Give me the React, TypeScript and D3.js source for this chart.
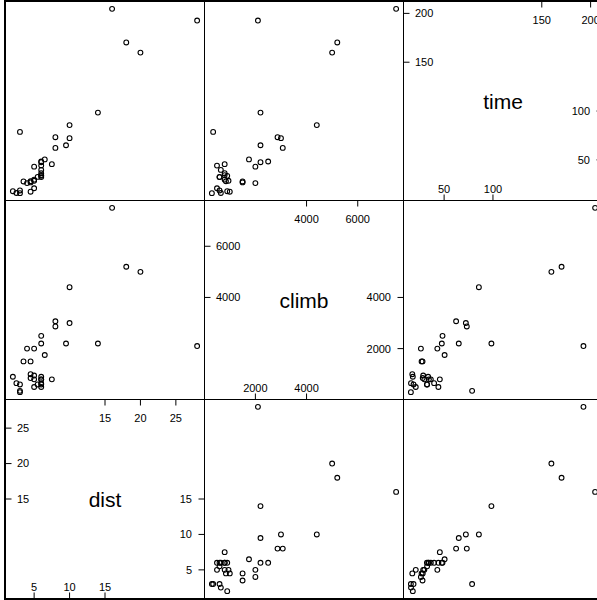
import React from 'react';
import * as d3 from 'd3';

// MASS::hills — 35 Scottish hill races
const dist = [2.5, 6, 6, 7.5, 8, 8, 16, 6, 5, 6, 28, 5, 9.5, 6, 4.5, 10, 14, 3, 4.5, 5.5, 3, 3.5, 6, 2, 3, 4, 6, 5, 6.5, 5, 10, 6, 18, 4.5, 20];
const climb = [650, 2500, 900, 800, 3070, 2866, 7500, 800, 800, 650, 2100, 2000, 2200, 500, 1500, 3000, 2200, 350, 1000, 600, 300, 1500, 2200, 900, 600, 2000, 800, 950, 1750, 500, 4400, 600, 5200, 850, 5000];
const time = [16.083, 48.35, 33.65, 45.6, 62.267, 73.217, 204.617, 36.367, 29.75, 39.75, 192.667, 43.05, 65, 44.133, 26.933, 72.25, 98.417, 78.65, 17.417, 32.567, 15.95, 27.9, 47.633, 17.933, 18.683, 26.217, 34.433, 28.567, 50.5, 20.95, 85.583, 32.383, 170.25, 28.1, 159.833];

const varNames = ['dist', 'climb', 'time'];
const distTicks = [5, 10, 15, 20, 25];
const climbTicks = [2000, 4000, 6000];
const timeTicks = [50, 100, 150, 200];

const allVars = [dist, climb, time];
const allTicks = [distTicks, climbTicks, timeTicks];

const X0 = 5.5;
const Y0 = 1.5;
const P = 199;
const PAD = 0.04;
const FONT = "'Liberation Sans', Arial, Helvetica, sans-serif";

function ext(v: number[]): [number, number] {
  const [lo, hi] = d3.extent(v) as [number, number];
  const s = hi - lo;
  return [lo - PAD * s, hi + PAD * s];
}

export default function App() {
  const n = dist.length;
  const xScales = allVars.map((v, i) =>
    d3.scaleLinear().domain(ext(v)).range([X0 + i * P, X0 + (i + 1) * P])
  );
  const yScales = allVars.map((v, i) => {
    const r = 2 - i;
    return d3.scaleLinear().domain(ext(v)).range([Y0 + (r + 1) * P, Y0 + r * P]);
  });

  const panels: React.ReactNode[] = [];
  for (let r = 0; r < 3; r++) {
    for (let c = 0; c < 3; c++) {
      const yi = 2 - r;
      const xi = c;
      const px = X0 + c * P;
      const py = Y0 + r * P;
      const id = `clip-${r}-${c}`;
      if (xi === yi) {
        const ticks = allTicks[xi];
        const k = Math.ceil(ticks.length / 2);
        const lower = ticks.slice(0, k);
        const upper = ticks.slice(ticks.length - k);
        const xs = xScales[xi];
        const ys = yScales[yi];
        panels.push(
          <g key={id}>
            <text x={px + P / 2} y={py + P / 2 + 7.5} textAnchor="middle" fontSize={21} fontFamily={FONT} fill="#000">
              {varNames[xi]}
            </text>
            {lower.map((t) => (
              <g key={'b' + t}>
                <line x1={xs(t)} x2={xs(t)} y1={py + P} y2={py + P - 6} stroke="#000" />
                <text x={xs(t)} y={py + P - 7.5} textAnchor="middle" fontSize={11} fontFamily={FONT} fill="#000">{t}</text>
              </g>
            ))}
            {upper.map((t) => (
              <g key={'t' + t}>
                <line x1={xs(t)} x2={xs(t)} y1={py} y2={py + 6} stroke="#000" />
                <text x={xs(t)} y={py + 22.5} textAnchor="middle" fontSize={11} fontFamily={FONT} fill="#000">{t}</text>
              </g>
            ))}
            {upper.map((t) => (
              <g key={'l' + t}>
                <line x1={px} x2={px + 6} y1={ys(t)} y2={ys(t)} stroke="#000" />
                <text x={px + 11.5} y={ys(t) + 3.9} textAnchor="start" fontSize={11} fontFamily={FONT} fill="#000">{t}</text>
              </g>
            ))}
            {lower.map((t) => (
              <g key={'r' + t}>
                <line x1={px + P} x2={px + P - 6} y1={ys(t)} y2={ys(t)} stroke="#000" />
                <text x={px + P - 12.5} y={ys(t) + 3.9} textAnchor="end" fontSize={11} fontFamily={FONT} fill="#000">{t}</text>
              </g>
            ))}
          </g>
        );
      } else {
        const xv = allVars[xi];
        const yv = allVars[yi];
        panels.push(
          <g key={id} clipPath={`url(#${id})`}>
            {d3.range(n).map((j) => (
              <circle
                key={j}
                cx={xScales[xi](xv[j])}
                cy={yScales[yi](yv[j])}
                r={2.4}
                fill="none"
                stroke="#000"
                strokeWidth={1.1}
              />
            ))}
          </g>
        );
      }
    }
  }

  return (
    <svg
      width={597}
      height={600}
      style={{ position: 'absolute', left: 0, top: 0, background: '#fff' }}
    >
      <defs>
        {[0, 1, 2].map((r) =>
          [0, 1, 2].map((c) => (
            <clipPath id={`clip-${r}-${c}`} key={`${r}-${c}`}>
              <rect x={X0 + c * P} y={Y0 + r * P} width={P} height={P} />
            </clipPath>
          ))
        )}
      </defs>
      <rect x={0} y={0} width={597} height={600} fill="#fff" />
      {panels}
      {[0, 1, 2].map((r) =>
        [0, 1, 2].map((c) => (
          <rect
            key={`b${r}-${c}`}
            x={X0 + c * P}
            y={Y0 + r * P}
            width={P}
            height={P}
            fill="none"
            stroke="#000"
            strokeWidth={1}
          />
        ))
      )}
      <rect x={X0 - 0.5} y={Y0 - 0.5} width={3 * P + 1} height={3 * P + 1} fill="none" stroke="#000" strokeWidth={2} />
    </svg>
  );
}
